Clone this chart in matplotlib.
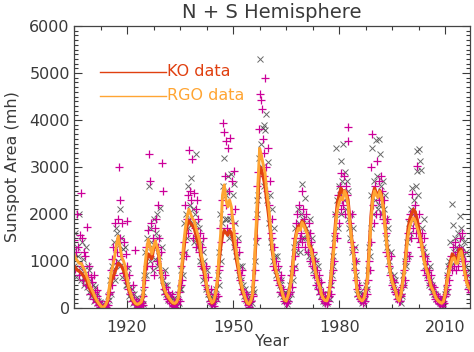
import numpy as np
import matplotlib
matplotlib.use("Agg")
import matplotlib.pyplot as plt
from matplotlib.ticker import MultipleLocator

# ---------------- data ----------------
# quarterly sample values (mh), 4 per year, 1905..2016
rgo_points = [
    1450, 820, 1200, 2000,  1300, 700, 1550, 2450,  900, 1500, 600, 1200,  1100, 500, 1720, 700,
    450, 900, 300, 650,  550, 200, 700, 350,  120, 380, 250, 60,  150, 30, 90, 10,
    0, 40, 10, 60,  20, 150, 60, 300,  350, 800, 500, 1050,  1300, 700, 1800, 950,
    1200, 1900, 2990, 1500,  2300, 1100, 1800, 750,  1400, 600, 1150, 1850,  900, 400, 700, 300,
    350, 150, 500, 200,  80, 1230, 150, 60,  30, 120, 50, 150,  100, 250, 60, 450,
    600, 1300, 900, 1650,  3270, 1100, 2700, 1800,  900, 1500, 700, 1700,  1900, 1000, 2200, 1300,
    1500, 800, 1200, 3090,  2490, 400, 700, 300,  450, 200, 350, 150,  250, 100, 300, 60,
    50, 150, 30, 120,  80, 200, 350, 150,
    500, 900, 600, 1200,  1400, 2200, 1100, 1900,  2400, 1600, 3360, 2500,  2300, 3170, 1500, 2450,
    1700, 2100, 1300, 2300,  1900, 1200, 1600, 900,  1300, 700, 1500, 850,  500, 900, 400, 650,
    300, 150, 400, 100,  80, 200, 50, 150,
    300, 600, 250, 800,  900, 1700, 1400, 2300,  3940, 3750, 2800, 3560,  2200, 1700, 3400, 2500,
    3620, 2000, 2700, 1800,  2920, 1600, 2100, 1300,  1400, 800, 1200, 600,  700, 400, 800, 300,
    350, 150, 300, 200,  60, 120, 30, 150,
    150, 300, 250, 600,  800, 1900, 1500, 2600,  2900, 3800, 4550, 4420,  4230, 3600, 2800, 3300,
    4890, 3000, 2500, 3400,  2200, 2700, 1600, 1900,  1500, 900, 1300, 800,  1000, 600, 900, 500,
    600, 350, 700, 300,  400, 150, 250, 100,
    100, 250, 150, 300,  350, 700, 450, 900,  800, 1500, 1100, 1800,  2000, 1300, 2200, 1500,
    1600, 2490, 1400, 2100,  1900, 1300, 2000, 1500,  1200, 1800, 1000, 1600,  1400, 900, 1200, 700,
    1000, 500, 800, 600,  400, 700, 300, 550,  200, 350, 150, 250,  100, 200, 80, 150,
    250, 450, 300, 600,  800, 1300, 1000, 1600,  2000, 1500, 2400, 1800,  2600, 2100, 2880, 2300,
    2200, 2800, 2000, 2600,  2400, 3860, 3560, 2000,  1800, 1400, 2000, 1300,  1200, 800, 1000, 600,
    400, 250, 500, 200,  150, 250, 100, 200,  250, 150, 400, 300,
    600, 1000, 800, 1400,  2990, 3700, 2200, 1800,  2600, 2000, 3130, 2400,  2300, 2700, 2000, 2800,
    2500, 1900, 2300, 1800,  1600, 1200, 1900, 1100,  900, 700, 1100, 500,  600, 400, 550, 350,
    300, 200, 350, 150,  150, 250, 300, 450,
    500, 800, 600, 1000,  1200, 1600, 1100, 1900,  2000, 1500, 2420, 1700,  1900, 2200, 1600, 3020,
    1800, 1500, 2000, 1400,  1300, 1600, 1100, 1500,  800, 1100, 700, 1000,  600, 800, 500, 700,
    400, 500, 300, 450,  200, 300, 150, 250,  100, 200, 80, 150,
    50, 150, 100, 250,  300, 500, 400, 700,  600, 900, 1100, 800,  1300, 900, 1400, 1100,
    800, 1200, 900, 1300,  1500, 1100, 1600, 1000,  1200, 800, 1000, 700,  600, 400, 500, 350,
]

ko_points = [
    900, 1600, 650, 1300,  1100, 2000, 850, 600,  1400, 750, 1050, 500,  600, 1300, 450, 900,
    800, 350, 600, 250,  300, 500, 150, 450,  250, 100, 320, 150,  60, 120, 20, 50,
    20, 0, 80, 10,  100, 40, 250, 180,  600, 300, 900, 700,  800, 1400, 600, 1700,
    1600, 1000, 1350, 2100,  900, 1500, 650, 1250,  800, 1300, 500, 700,  500, 850, 250, 450,
    200, 400, 100, 300,  150, 50, 220, 100,  80, 20, 180, 60,  200, 80, 350, 700,
    1200, 700, 1500, 1100,  2600, 1700, 1000, 1400,  1300, 800, 1900, 1050,  1600, 2000, 900, 1500,
    1100, 2130, 700, 1300,  600, 350, 800, 500,  300, 500, 180, 250,  150, 280, 80, 200,
    120, 60, 200, 20,  150, 300, 100, 400,
    800, 400, 1100, 700,  1800, 1200, 2000, 1500,  1700, 2600, 1900, 2200,  2770, 1800, 2100, 1400,
    2000, 1500, 3270, 1800,  1300, 1700, 1000, 1400,  900, 1200, 600, 1000,  700, 400, 800, 300,
    200, 350, 120, 250,  100, 60, 180, 250,
    400, 200, 700, 500,  1200, 2000, 1000, 1800,  2600, 3200, 1900, 2400,  2500, 1900, 2800, 1500,
    1900, 2850, 1600, 2400,  2640, 1300, 1800, 1100,  1100, 1500, 700, 900,  600, 900, 350, 500,
    250, 400, 180, 300,  100, 40, 200, 80,
    200, 100, 400, 350,  1000, 1400, 2000, 2300,  2400, 3200, 5290, 3500,  3000, 3830, 2600, 3900,
    3780, 4120, 2300, 3100,  1800, 2400, 1400, 2100,  1300, 1000, 1700, 1100,  700, 1100, 800, 600,
    500, 300, 600, 400,  250, 150, 350, 200,
    150, 80, 300, 200,  500, 300, 750, 600,  1300, 900, 1700, 1200,  1400, 2100, 1800, 1200,
    2000, 1500, 2630, 1900,  1500, 2340, 1700, 1200,  1600, 1100, 1900, 1300,  1000, 1500, 800, 1100,
    700, 1000, 500, 900,  600, 350, 500, 250,  300, 150, 200, 100,  150, 250, 100, 300,
    300, 200, 500, 700,  1100, 900, 1500, 2000,  3410, 2300, 1700, 2600,  2400, 3130, 2000, 2700,
    3480, 2300, 2900, 2100,  2700, 1900, 2500, 1700,  1500, 2000, 1200, 1700,  900, 1300, 700, 1000,
    300, 500, 250, 350,  200, 100, 250, 150,  300, 200, 500, 400,
    800, 1300, 1100, 1700,  2400, 3400, 2000, 2700,  2300, 3580, 2800, 2100,  3590, 2200, 3270, 2600,
    2000, 2700, 2100, 2400,  1900, 1500, 1300, 1700,  1000, 800, 1200, 600,  500, 700, 400, 600,
    350, 250, 200, 300,  200, 100, 350, 250,
    700, 500, 1000, 900,  1400, 1100, 1800, 1500,  1600, 2100, 2560, 2000,  2300, 1800, 2600, 2920,
    3340, 2400, 3380, 3130,  2940, 1700, 1300, 1900,  1200, 900, 1100, 700,  800, 500, 900, 600,
    500, 350, 400, 300,  300, 200, 250, 150,  150, 100, 200, 50,
    100, 200, 50, 300,  400, 700, 350, 900,  1000, 1400, 900, 2210,  1770, 1200, 1500, 1000,
    1300, 1000, 1600, 1200,  1950, 1700, 1300, 1500,  1100, 1400, 900, 1200,  700, 500, 800, 450,
]

# smoothed curves, half-year steps 1905.0 .. 2017.0
rgo_smooth = [
    1150, 1050, 1000, 950, 950, 880, 800, 700, 600, 470,
    400, 320, 230, 160, 100, 50, 10, 20, 80, 170,
    450, 750, 900, 1100, 1350, 1530, 1300, 1080, 1000, 880,
    650, 430, 320, 200, 140, 90, 80, 100, 130, 250,
    850, 1200, 1460, 1300, 1150, 1300, 1430, 1300, 1140, 850,
    560, 420, 320, 260, 200, 150, 110, 100, 130, 220,
    550, 900, 1360, 1700, 1950, 2100, 2000, 1900, 1850, 1700,
    1570, 1450, 1150, 950, 800, 500, 300, 200, 110, 150,
    300, 550, 1100, 1600, 2400, 2620, 2300, 2150, 2300, 2150,
    1800, 1450, 1150, 900, 650, 450, 320, 200, 110, 85,
    150, 300, 900, 1700, 2600, 3400, 3250, 3050, 2900, 2500,
    2200, 1800, 1350, 1050, 850, 700, 550, 450, 300, 180,
    150, 250, 400, 600, 1000, 1400, 1600, 1700, 1650, 1820,
    1750, 1650, 1570, 1300, 1250, 1070, 900, 700, 550, 450,
    280, 200, 160, 150, 250, 500, 900, 1250, 1750, 2100,
    2250, 2350, 2300, 2490, 2400, 2200, 1800, 1450, 1150, 800,
    400, 230, 180, 150, 200, 350, 600, 1200, 1850, 2300,
    2490, 2400, 2350, 2480, 2350, 2100, 1700, 1300, 1000, 720,
    550, 450, 350, 200, 150, 300, 550, 800, 1200, 1550,
    1750, 1850, 1920, 1850, 1720, 1600, 1450, 1250, 1000, 850,
    750, 600, 450, 380, 280, 200, 150, 120, 100, 140,
    300, 550, 750, 900, 1050, 1070, 950, 950, 1150, 1210,
    1000, 750, 550, 450, 400,
]

ko_smooth = [
    900, 850, 800, 780, 750, 700, 650, 600, 500, 400,
    330, 260, 200, 140, 90, 50, 20, 30, 70, 150,
    380, 550, 650, 750, 850, 950, 920, 880, 800, 700,
    550, 380, 280, 180, 120, 80, 70, 90, 120, 220,
    700, 1000, 1150, 1100, 1050, 1250, 1350, 1300, 1100, 800,
    530, 400, 300, 240, 180, 130, 100, 90, 120, 200,
    500, 800, 1200, 1550, 1750, 1850, 1800, 1750, 1700, 1550,
    1400, 1300, 1050, 850, 700, 450, 280, 180, 100, 130,
    280, 500, 950, 1300, 1550, 1650, 1600, 1550, 1650, 1600,
    1450, 1250, 1000, 800, 580, 400, 290, 180, 100, 80,
    140, 280, 800, 1500, 2300, 3000, 2950, 2800, 2600, 2300,
    2000, 1650, 1250, 1000, 800, 650, 520, 420, 280, 170,
    150, 250, 420, 650, 1050, 1450, 1650, 1750, 1700, 1850,
    1800, 1700, 1600, 1350, 1300, 1100, 920, 720, 580, 470,
    300, 220, 170, 160, 260, 520, 950, 1350, 1850, 2250,
    2400, 2550, 2450, 2500, 2450, 2300, 1900, 1500, 1200, 850,
    420, 250, 190, 160, 210, 380, 650, 1300, 1950, 2400,
    2550, 2450, 2400, 2500, 2400, 2150, 1750, 1350, 1050, 750,
    580, 470, 360, 210, 160, 320, 580, 850, 1300, 1700,
    1900, 2000, 2100, 2050, 1900, 1700, 1500, 1300, 1050, 880,
    780, 620, 470, 390, 290, 210, 160, 130, 110, 150,
    330, 600, 800, 1000, 1150, 1100, 1000, 1050, 1250, 1250,
    1050, 800, 600, 480, 420,
]

x_ticks = [1920, 1950, 1980, 2010]
y_ticks = [0, 1000, 2000, 3000, 4000, 5000, 6000]

point_years = 1905.125 + 0.25 * np.arange(len(rgo_points))
smooth_years = 1905.0 + 0.5 * np.arange(len(rgo_smooth))

# ---------------- plot ----------------
TXT = "#3a3a3a"
C_KO = "#e04010"
C_RGO = "#ffa533"
C_MAG = "#cc0099"
C_X = "#444444"
FS = 11.5

fig = plt.figure(figsize=(4.74, 3.52), dpi=100)
ax = fig.add_axes([74 / 474, 1 - 308 / 352, 396 / 474, 282 / 352])

ax.plot(point_years, ko_points, linestyle="none", marker="x", ms=4.8, mew=0.7,
        color=C_X, alpha=0.8)
ax.plot(point_years, rgo_points, linestyle="none", marker="+", ms=5.8, mew=0.9,
        color=C_MAG)
ax.plot(smooth_years, ko_smooth, color=C_KO, lw=2.3, solid_joinstyle="round")
ax.plot(smooth_years, rgo_smooth, color=C_RGO, lw=2.1, solid_joinstyle="round")

ax.set_xlim(1905, 2017)
ax.set_ylim(0, 6000)
ax.set_xticks(x_ticks)
ax.set_yticks(y_ticks)
ax.xaxis.set_minor_locator(MultipleLocator(7.5))
ax.yaxis.set_minor_locator(MultipleLocator(100))
ax.tick_params(which="both", direction="in", top=True, right=True, colors=TXT,
               labelsize=FS, width=0.8)
ax.tick_params(which="major", length=6)
ax.tick_params(which="minor", length=3)
ax.tick_params(axis="x", pad=9)
ax.tick_params(axis="y", pad=3)
for lab in ax.get_xticklabels() + ax.get_yticklabels():
    lab.set_color(TXT)
for s in ax.spines.values():
    s.set_color("#444444")
    s.set_linewidth(0.9)

fig.text(272 / 474, 1 - 12 / 352, "N + S Hemisphere", fontsize=14, color=TXT,
         ha="center", va="center")
fig.text(272 / 474, 1 - 342 / 352, "Year", fontsize=FS, color=TXT,
         ha="center", va="center")
fig.text(13 / 474, 1 - 167 / 352, "Sunspot Area (mh)", fontsize=FS, color=TXT,
         ha="center", va="center", rotation=90)

# legend drawn in IDL style
ax.plot([0.066, 0.232], [0.837, 0.837], transform=ax.transAxes, color=C_KO, lw=1.0)
ax.text(0.234, 0.837, "KO data", transform=ax.transAxes, color=C_KO,
        fontsize=FS, va="center", ha="left")
ax.plot([0.066, 0.232], [0.752, 0.752], transform=ax.transAxes, color=C_RGO, lw=1.0)
ax.text(0.234, 0.752, "RGO data", transform=ax.transAxes, color=C_RGO,
        fontsize=FS, va="center", ha="left")

fig.savefig("out.png", dpi=100)
